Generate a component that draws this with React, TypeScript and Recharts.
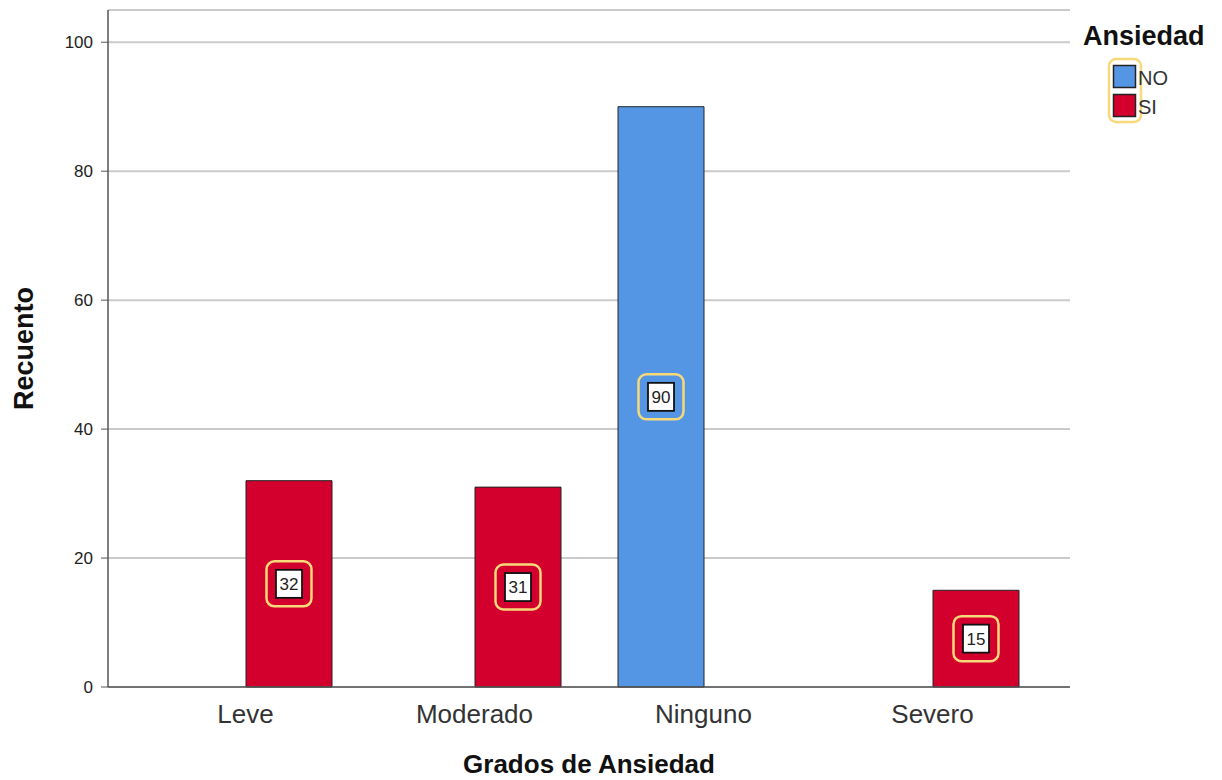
import React from "react";
import { BarChart, Bar, XAxis, YAxis, CartesianGrid, LabelList } from "recharts";

// Grados de ansiedad vs. recuento, split by the Ansiedad (NO / SI) flag
const categories = ["Leve", "Moderado", "Ninguno", "Severo"];
const noValues: (number | null)[] = [null, null, 90, null];
const siValues: (number | null)[] = [32, 31, null, 15];
const yTicks = [0, 20, 40, 60, 80, 100];

const legendTitle = "Ansiedad";
const seriesNames = ["NO", "SI"];
const seriesColors = ["#5596e4", "#d3002e"];

const data = categories.map((c, i) => ({ cat: c, NO: noValues[i], SI: siValues[i] }));

const font = "'Liberation Sans', Arial, sans-serif";
const highlight = "#f8d97a";

// Boxed value label with the highlighted frame around it
const ValueLabel = (props: any) => {
  const { x, y, width, height, value } = props;
  if (value === null || value === undefined) return null;
  const cx = Number(x) + Number(width) / 2;
  const cy = Number(y) + Number(height) / 2;
  return (
    <g>
      <rect x={cx - 22.5} y={cy - 22.5} width={45} height={45} rx={8} ry={8} fill="none" stroke={highlight} strokeWidth={2.5} />
      <rect x={cx - 13} y={cy - 14} width={26} height={28} fill="#ffffff" stroke="#111" strokeWidth={1.8} />
      <text x={cx} y={cy + 6} textAnchor="middle" fontFamily={font} fontSize={17} fill="#222">
        {value}
      </text>
    </g>
  );
};

export default function App() {
  return (
    <div style={{ position: "absolute", left: 0, top: 0, width: 1222, height: 780, background: "#fff" }}>
      <BarChart
        width={1222}
        height={780}
        data={data}
        margin={{ top: 10, right: 152, bottom: 0, left: 0 }}
        barCategoryGap={29}
        barGap={0}
      >
        <CartesianGrid vertical={false} stroke="#cacaca" strokeWidth={2} />
        <XAxis
          dataKey="cat"
          height={93}
          padding={{ left: 23, right: 23 }}
          axisLine={{ stroke: "#555", strokeWidth: 1.5 }}
          tickLine={false}
          tick={{ fontFamily: font, fontSize: 26, fill: "#333" }}
          tickMargin={12}
          label={{
            value: "Grados de Ansiedad",
            position: "insideBottom",
            offset: 0,
            dy: -7,
            style: { fontFamily: font, fontWeight: "bold", fontSize: 26, fill: "#111" },
          }}
        />
        <YAxis
          width={108}
          domain={[0, 105]}
          ticks={yTicks}
          axisLine={{ stroke: "#555", strokeWidth: 1.5 }}
          tickLine={{ stroke: "#555", strokeWidth: 1 }}
          tickSize={7}
          tickMargin={8}
          tick={{ fontFamily: font, fontSize: 17, fill: "#222" }}
          label={{
            value: "Recuento",
            angle: -90,
            position: "insideLeft",
            offset: 23,
            style: { textAnchor: "middle", fontFamily: font, fontWeight: "bold", fontSize: 27, fill: "#111" },
          }}
        />
        <Bar dataKey="NO" fill={seriesColors[0]} stroke="#222" strokeWidth={1} isAnimationActive={false}>
          <LabelList dataKey="NO" content={ValueLabel} />
        </Bar>
        <Bar dataKey="SI" fill={seriesColors[1]} stroke="#222" strokeWidth={1} isAnimationActive={false}>
          <LabelList dataKey="SI" content={ValueLabel} />
        </Bar>
      </BarChart>
      {/* Legend */}
      <svg width={1222} height={780} style={{ position: "absolute", left: 0, top: 0, pointerEvents: "none" }}>
        <text x={1083} y={45} fontFamily={font} fontWeight="bold" fontSize={27} fill="#111">
          {legendTitle}
        </text>
        <rect x={1109} y={59} width={32} height={63} rx={7} ry={7} fill="none" stroke={highlight} strokeWidth={2.5} />
        {seriesNames.map((n, i) => (
          <g key={n}>
            <rect x={1113.5} y={65.5 + i * 29} width={22} height={22} fill={seriesColors[i]} stroke="#222" strokeWidth={1.5} />
            <text x={1138} y={85 + i * 29} fontFamily={font} fontSize={20} fill="#333">
              {n}
            </text>
          </g>
        ))}
      </svg>
    </div>
  );
}
